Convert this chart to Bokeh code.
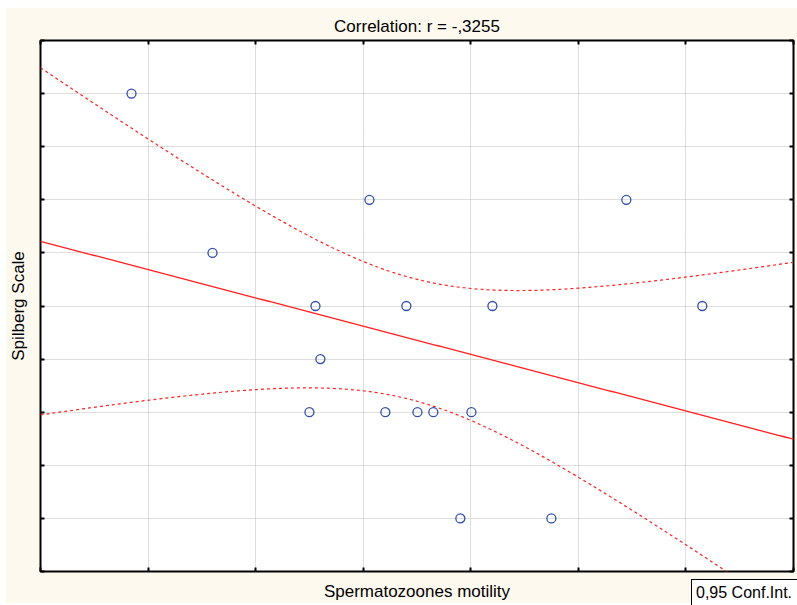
import numpy as np
from bokeh.plotting import figure
from bokeh.models import FixedTicker, CustomJSTickFormatter, LinearAxis, Range1d, Div
from bokeh.layouts import column
from bokeh.embed import file_html
from bokeh.resources import INLINE

# Data (in grid units)
motility = [8.46, 15.99, 30.58, 54.46, 25.56, 34.01, 42.01, 61.52,
            26.02, 25.0, 32.06, 35.04, 36.52, 40.06, 39.03, 47.49]
spilberg = [9, 6, 7, 7, 5, 5, 5, 5, 4, 3, 3, 3, 3, 3, 1, 1]
x_ticks = [0, 10, 20, 30, 40, 50, 60, 70]
y_ticks = [0, 1, 2, 3, 4, 5, 6, 7, 8, 9, 10]
title_text = "Correlation: r = -,3255"
x_label = "Spermatozoones motility"
y_label = "Spilberg Scale"
legend_text = "0,95 Conf.Int."
t_crit = 2.1448  # t(0.975, df=14)

x = np.array(motility, dtype=float)
y = np.array(spilberg, dtype=float)
n = len(x)
xm, ym = x.mean(), y.mean()
sxx = ((x - xm) ** 2).sum()
b = ((x - xm) * (y - ym)).sum() / sxx
a = ym - b * xm
resid = y - (a + b * x)
s = np.sqrt((resid ** 2).sum() / (n - 2))
xs = np.linspace(x_ticks[0], x_ticks[-1], 200)
yhat = a + b * xs
hw = t_crit * s * np.sqrt(1.0 / n + (xs - xm) ** 2 / sxx)

FONT = "Liberation Sans"
CREAM = "#fdf9ef"
FS = "17px"

p = figure(width=792, height=596, output_backend="svg", toolbar_location=None,
           x_range=Range1d(x_ticks[0], x_ticks[-1]), y_range=Range1d(y_ticks[0], y_ticks[-1]),
           x_axis_location=None, y_axis_location=None,
           min_border_left=35, min_border_right=4, min_border_top=33, min_border_bottom=31)
p.margin = (7, 0, 2, 5)
p.background_fill_color = "white"
p.border_fill_color = CREAM
p.outline_line_color = "black"
p.outline_line_width = 2

empty = CustomJSTickFormatter(code="return ''")
for loc in ["below", "left", "above", "right"]:
    ticker = FixedTicker(ticks=x_ticks if loc in ("below", "above") else y_ticks)
    ax = LinearAxis(ticker=ticker, formatter=empty)
    ax.major_tick_in = 4
    ax.major_tick_out = 0
    ax.minor_tick_in = 0
    ax.minor_tick_out = 0
    ax.major_tick_line_color = "black"
    ax.major_tick_line_width = 2
    ax.axis_line_color = None
    ax.major_label_text_font_size = "0px"
    ax.major_label_standoff = 0
    if loc == "below":
        ax.axis_label = x_label
        ax.axis_label_standoff = 10
    if loc == "left":
        ax.axis_label = y_label
        ax.axis_label_standoff = 13
    ax.axis_label_text_font = FONT
    ax.axis_label_text_font_size = FS
    ax.axis_label_text_font_style = "normal"
    ax.axis_label_text_color = "black"
    p.add_layout(ax, loc)

p.xgrid.ticker = FixedTicker(ticks=x_ticks)
p.ygrid.ticker = FixedTicker(ticks=y_ticks)
for g in (p.xgrid, p.ygrid):
    g.grid_line_color = "#bdbdbd"
    g.grid_line_dash = "1 1"
    g.grid_line_width = 1

p.title.text = title_text
p.title.align = "center"
p.title.text_font = FONT
p.title.text_font_size = FS
p.title.text_font_style = "normal"
p.title.text_color = "black"

p.line(xs, yhat, line_color="#ff2020", line_width=1.3)
p.line(xs, yhat + hw, line_color="#ff2020", line_width=1.2, line_dash="3 3")
p.line(xs, yhat - hw, line_color="#ff2020", line_width=1.2, line_dash="3 3")
p.scatter(x, y, marker="circle", size=9, fill_color=None, line_color="#3350a8", line_width=1.3)

leg = Div(text=legend_text, width=106, height=26, margin=(-26, 0, 0, 691),
          styles={"background-color": "white", "border-left": "1px solid black",
                  "border-top": "1px solid black", "box-sizing": "border-box",
                  "padding": "3px 0px 0px 4px", "font-family": FONT,
                  "font-size": "16px", "color": "black", "white-space": "nowrap",
                  "line-height": "20px"})

layout = column(p, leg, spacing=0)
layout.margin = 0

open("out.html", "w").write(file_html(layout, INLINE))
